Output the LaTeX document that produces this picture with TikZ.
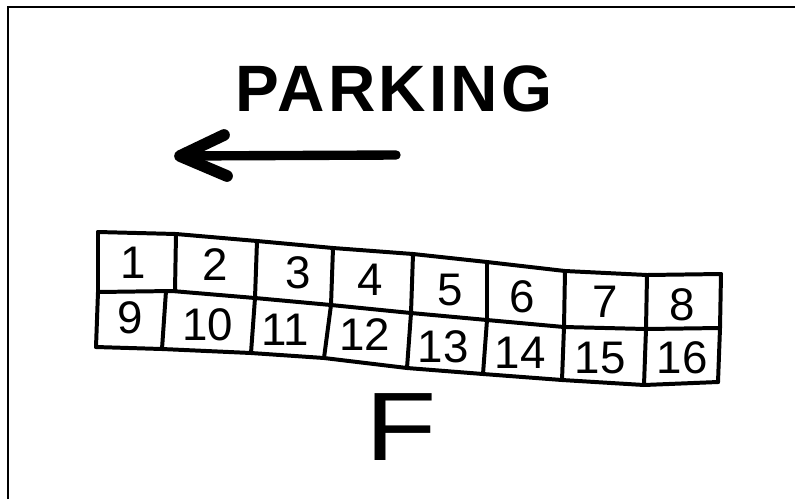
\documentclass[tikz,border=0pt]{standalone}
\usepackage{fontspec}
\setmainfont{Liberation Sans}
\newfontfamily\titlefont[LetterSpace=5]{Liberation Sans}
\begin{document}
\begin{tikzpicture}[x=0.03cm,y=-0.03cm,
  gridline/.style={line width=3.4pt, line join=round, line cap=round},
  digit/.style={font=\fontsize{39}{39}\selectfont, inner sep=0pt},
  frameline/.style={line width=1.6pt},
  arrowline/.style={line width=8pt, line cap=round, line join=round},
  title/.style={font=\fontsize{56}{56}\titlefont\bfseries, inner sep=0pt},
  letter/.style={font=\fontsize{83}{83}\selectfont, inner sep=0pt}]
\useasboundingbox (0,0) rectangle (795,499);
% frame
\coordinate (f0) at (8,499); \coordinate (f1) at (8,7); \coordinate (f2) at (795,7);
\draw[frameline] (f0) -- (f1) -- (f2);
% title
\node[title] (park) at (394,89) {PARKING};
% arrow
\coordinate (a0) at (396,155); \coordinate (a1) at (180,156);
\coordinate (b1) at (224,135); \coordinate (b2) at (227,176);
\draw[arrowline] (a0) -- (a1);
\draw[arrowline, line width=10pt] (b1) -- (a1) -- (b2);
% grid points
\coordinate (T0) at (98,232); \coordinate (T1) at (176,234); \coordinate (T2) at (257,241);
\coordinate (T3) at (333,248); \coordinate (T4) at (413,254); \coordinate (T5) at (487,262);
\coordinate (T6) at (565,271); \coordinate (T7) at (647,275); \coordinate (T8) at (721,274);
\coordinate (M0) at (98,292); \coordinate (M1) at (172,291); \coordinate (M2) at (255,298);
\coordinate (M3) at (331,305); \coordinate (M4) at (411,313); \coordinate (M5) at (487,320);
\coordinate (M6) at (564,327); \coordinate (M7) at (646,329); \coordinate (M8) at (720,328);
\coordinate (U1) at (166,291);
\coordinate (B0) at (96,347); \coordinate (B1) at (162,349); \coordinate (B2) at (251,353);
\coordinate (B3) at (324,358); \coordinate (B4) at (407,368); \coordinate (B5) at (483,374);
\coordinate (B6) at (562,380); \coordinate (B7) at (644,385); \coordinate (B8) at (718,382);
% horizontal lines
\draw[gridline] (T0) -- (T1) -- (T2) -- (T3) -- (T4) -- (T5) -- (T6) -- (T7) -- (T8);
\draw[gridline] (M0) -- (M1) -- (M2) -- (M3) -- (M4) -- (M5) -- (M6) -- (M7) -- (M8);
\draw[gridline] (B0) -- (B1) -- (B2) -- (B3) -- (B4) -- (B5) -- (B6) -- (B7) -- (B8);
% verticals, top row
\coordinate (V1) at (175,291);
\draw[gridline] (T0) -- (M0);
\draw[gridline] (T1) -- (V1);
\foreach \i in {2,...,8} { \draw[gridline] (T\i) -- (M\i); }
% verticals, bottom row
\draw[gridline] (M0) -- (B0);
\draw[gridline] (U1) -- (B1);
\foreach \i in {2,...,8} { \draw[gridline] (M\i) -- (B\i); }
% numbers
\node[digit] (n1) at (133,263) {1};
\node[digit] (n2) at (215,265) {2};
\node[digit] (n3) at (298,273) {3};
\node[digit] (n4) at (370,280) {4};
\node[digit] (n5) at (450,290) {5};
\node[digit] (n6) at (522,297) {6};
\node[digit] (n7) at (605,302) {7};
\node[digit] (n8) at (682,305) {8};
\node[digit] (n9) at (130,318) {9};
\node[digit] (n10) at (208,325) {10};
\node[digit] (n11) at (285,330) {11};
\node[digit] (n12) at (365,335) {12};
\node[digit] (n13) at (443,347) {13};
\node[digit] (n14) at (520,353) {14};
\node[digit] (n15) at (600,358) {15};
\node[digit] (n16) at (682,358) {16};
% F
\node[letter, xscale=1.2, transform shape] (F) at (401,427) {F};
\end{tikzpicture}
\end{document}
